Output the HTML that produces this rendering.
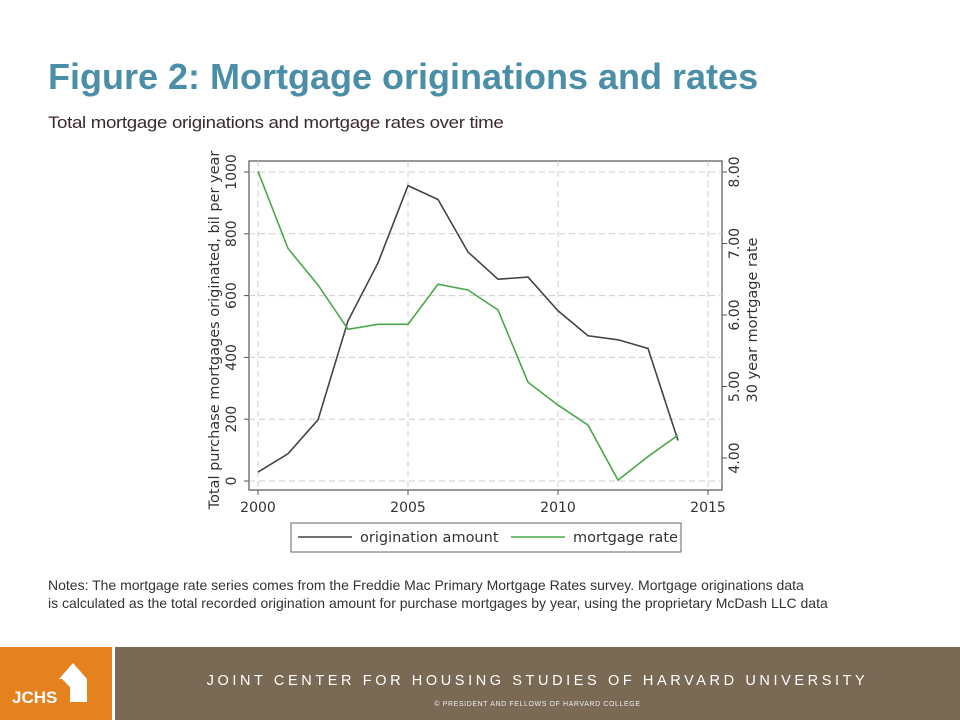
<!DOCTYPE html>
<html><head><meta charset="utf-8"><style>
body{margin:0;width:960px;height:720px;background:#fff;position:relative;overflow:hidden;font-family:"Liberation Sans","DejaVu Sans",sans-serif}
.t{position:absolute}
</style></head><body>
<div class="t" style="left:48px;top:56px;font-size:36px;font-weight:bold;color:#4a8ea8">Figure 2: Mortgage originations and rates</div>
<div class="t" style="left:48px;top:113px;font-size:17px;letter-spacing:-0.3px;color:#3a2a30;transform:scaleX(1.1);transform-origin:left">Total mortgage originations and mortgage rates over time</div>
<svg class="t" style="left:0;top:0" width="960" height="640" font-family="DejaVu Sans, sans-serif">
<g id="g"></g>
</svg>
<div class="t" style="left:48px;top:576px;font-size:14px;color:#333;line-height:18px;white-space:nowrap">Notes: The mortgage rate series comes from the Freddie Mac Primary Mortgage Rates survey. Mortgage originations data<br>is calculated as the total recorded origination amount for purchase mortgages by year, using the proprietary McDash LLC data</div>
<div class="t" style="left:0;top:647px;width:112px;height:73px;background:#e5821f">
<svg width="112" height="73"><polygon points="59,32 73,16 87,32 87,55 70,55 70,40 62,32" fill="#fff"/><text x="12" y="56" font-size="17" font-weight="bold" fill="#fff" font-family="Liberation Sans">JCHS</text></svg></div>
<div class="t" style="left:115px;top:647px;width:845px;height:73px;background:#7a6a55">
<div class="t" style="left:0;width:845px;top:26px;text-align:center;font-size:14.5px;letter-spacing:3.6px;color:#fff">JOINT CENTER FOR HOUSING STUDIES OF HARVARD UNIVERSITY</div>
<div class="t" style="left:0;width:845px;top:54px;text-align:center;font-size:7px;letter-spacing:0.6px;color:#eee">© PRESIDENT AND FELLOWS OF HARVARD COLLEGE</div>
</div>
<script>
const years=[2000,2001,2002,2003,2004,2005,2006,2007,2008,2009,2010,2011,2012,2013,2014];
const origination=[29,88,198,518,706,956,911,741,653,660,551,470,457,429,131];
const rate=[8.01,6.93,6.42,5.80,5.87,5.87,6.43,6.35,6.07,5.06,4.74,4.46,3.69,4.02,4.32];
const xTicks=[2000,2005,2010,2015];
const yTicks=[0,200,400,600,800,1000];
const rTicks=[4,5,6,7,8];
const NS='http://www.w3.org/2000/svg';
const g=document.getElementById('g');
const X=v=>258+(v-2000)*30;
const Y=v=>481-v*0.309;
const R=v=>172+(8-v)*71.5;
function el(t,a,p){const e=document.createElementNS(NS,t);for(const k in a)e.setAttribute(k,a[k]);(p||g).appendChild(e);return e;}
const f=el('rect',{x:249,y:161,width:473,height:329,fill:'#fff',stroke:'#555','stroke-width':1.2});


xTicks.forEach(v=>{
 const l=el('line',{x1:X(v),x2:X(v),y1:161,y2:490,stroke:'#ccc','stroke-dasharray':'6,4'});
 
 el('line',{x1:X(v),x2:X(v),y1:490,y2:495,stroke:'#555'});
 const t=el('text',{x:X(v),y:512,'text-anchor':'middle','font-size':14,fill:'#333'});t.textContent=v;
 
});
yTicks.forEach(v=>{
 const l=el('line',{x1:249,x2:722,y1:Y(v),y2:Y(v),stroke:'#ccc','stroke-dasharray':'6,4'});
 
 el('line',{x1:244,x2:249,y1:Y(v),y2:Y(v),stroke:'#555'});
 const t=el('text',{x:0,y:0,'text-anchor':'middle','font-size':14,fill:'#333',transform:`translate(236,${Y(v)}) rotate(-90)`});t.textContent=v;
 
});
rTicks.forEach(v=>{
 el('line',{x1:722,x2:727,y1:R(v),y2:R(v),stroke:'#555'});
 const t=el('text',{x:0,y:0,'text-anchor':'middle','font-size':14,fill:'#333',transform:`translate(739,${R(v)}) rotate(-90)`});t.textContent=v.toFixed(2);
 
});
const yt=el('text',{x:0,y:0,'text-anchor':'middle','font-size':14.5,fill:'#333',transform:'translate(219,330) rotate(-90)'});yt.textContent='Total purchase mortgages originated, bil per year';

const rt=el('text',{x:0,y:0,'text-anchor':'middle','font-size':14.5,fill:'#333',transform:'translate(757,320) rotate(-90)'});rt.textContent='30 year mortgage rate';

const l1=el('polyline',{points:years.map((y,i)=>X(y)+','+Y(origination[i])).join(' '),fill:'none',stroke:'#444','stroke-width':1.6});

const l2=el('polyline',{points:years.map((y,i)=>X(y)+','+R(rate[i])).join(' '),fill:'none',stroke:'#4aa84a','stroke-width':1.6});

const lg=el('rect',{x:291,y:523,width:390,height:29,fill:'#fff',stroke:'#666'});

el('line',{x1:298,x2:352,y1:537,y2:537,stroke:'#444','stroke-width':1.6});
const a=el('text',{x:360,y:542,'font-size':14.5,fill:'#333'});a.textContent='origination amount';

el('line',{x1:511,x2:565,y1:537,y2:537,stroke:'#4aa84a','stroke-width':1.6});
const b=el('text',{x:573,y:542,'font-size':14.5,fill:'#333'});b.textContent='mortgage rate';

</script>
</body></html>
